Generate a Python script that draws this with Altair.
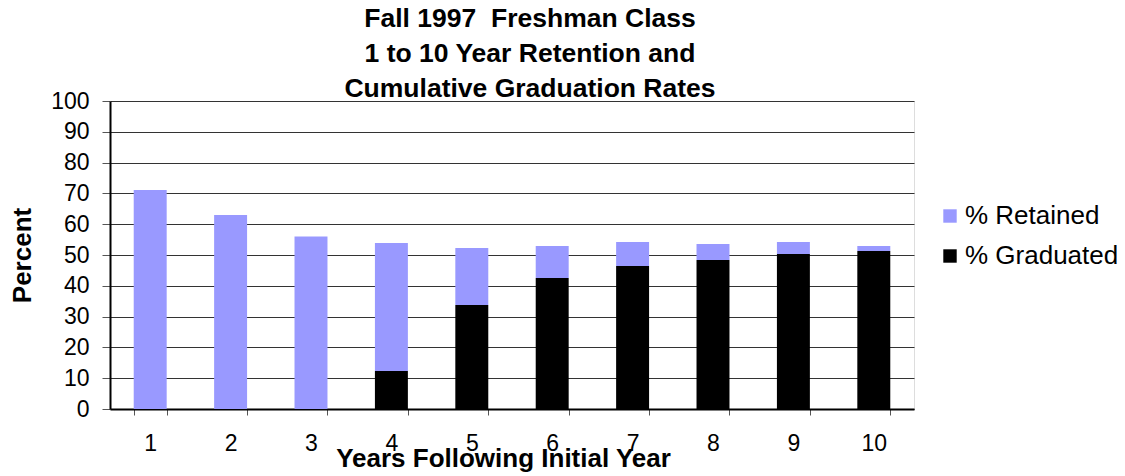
import altair as alt
import pandas as pd

years = ["1", "2", "3", "4", "5", "6", "7", "8", "9", "10"]
retained = [71.1, 63.0, 56.0, 41.6, 18.5, 10.4, 7.8, 5.2, 3.9, 1.6]
graduated = [0.0, 0.0, 0.0, 12.3, 33.8, 42.5, 46.4, 48.4, 50.3, 51.3]
series = ["% Retained", "% Graduated"]
colors = ["#9999FF", "#000000"]

rows = []
for i, y in enumerate(years):
    rows.append({"year": y, "series": "% Graduated", "value": graduated[i], "ord": 0})
    rows.append({"year": y, "series": "% Retained", "value": retained[i], "ord": 1})
df = pd.DataFrame(rows)

FONT = "Liberation Sans"

chart = alt.Chart(df).mark_bar().encode(
    x=alt.X("year:O", sort=years,
            scale=alt.Scale(paddingInner=0.59, paddingOuter=0.295),
            axis=alt.Axis(title="Years Following Initial Year", labelAngle=0,
                          labelFontSize=23, labelFont=FONT, labelColor="#000",
                          labelPadding=17, tickBand="extent", tickSize=6,
                          tickColor="#555", tickWidth=1,
                          domainColor="#000", domainWidth=2,
                          titleFontSize=26, titleFont=FONT, titleFontWeight="bold",
                          titleColor="#000", titlePadding=-10,
                          titleX=393, titleAlign="center")),
    y=alt.Y("value:Q", stack="zero",
            scale=alt.Scale(domain=[0, 100], nice=False),
            axis=alt.Axis(title="Percent", values=list(range(0, 101, 10)),
                          labelFontSize=23, labelFont=FONT, labelColor="#000",
                          labelPadding=13, tickSize=8, tickColor="#555",
                          domainColor="#000", domainWidth=2,
                          grid=True, gridColor="#333333", gridWidth=1.2,
                          titleFontSize=26, titleFont=FONT, titleFontWeight="bold",
                          titleColor="#000", titlePadding=15)),
    color=alt.Color("series:N",
                    scale=alt.Scale(domain=series, range=colors),
                    legend=alt.Legend(title=None, orient="none", legendX=827, legendY=102,
                                      symbolType="square", symbolSize=180,
                                      symbolStrokeWidth=0, labelFontSize=26,
                                      labelFont=FONT, labelColor="#000", labelLimit=400,
                                      labelOffset=2, rowPadding=14, padding=0)),
    order=alt.Order("ord:Q"),
).properties(
    width=804,
    height=308,
    title=alt.TitleParams(
        text=["Fall 1997\u00a0 Freshman Class", "1 to 10 Year Retention and",
              "Cumulative Graduation Rates"],
        fontSize=26.5, font=FONT, fontWeight="bold", color="#000",
        lineHeight=35, anchor="middle", dx=18, offset=-12),
    autosize=alt.AutoSizeParams(type="none"),
    padding={"left": 102, "top": 93, "right": 203, "bottom": 66},
).configure_view(
    stroke="#000", strokeWidth=2
).configure(background="#ffffff")

chart.save("out.html", embed_options={"renderer": "svg", "actions": False})
